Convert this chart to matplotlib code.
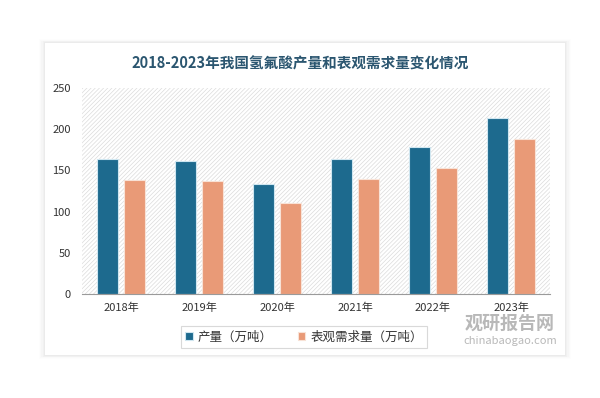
import numpy as np
import matplotlib.pyplot as plt
from matplotlib.patches import Rectangle

plt.rcParams['font.family'] = ['Noto Sans CJK SC', 'DejaVu Sans']
plt.rcParams['hatch.color'] = '#dcdcdc'
plt.rcParams['hatch.linewidth'] = 0.5

years = ['2018年', '2019年', '2020年', '2021年', '2022年', '2023年']
output = [164, 162, 134, 164, 179, 213]
demand = [138, 137, 110, 139, 153, 188]
labels = ['产量（万吨）', '表观需求量（万吨）']
c_out = '#1d6a8e'
c_dem = '#e99a77'

fig = plt.figure(figsize=(6, 3.98), dpi=100)

# card with soft shadow
for i, a in enumerate([0.008, 0.012, 0.016, 0.02, 0.025]):
    d = (5 - i) * 0.002
    fig.patches.append(Rectangle((45/600 - d, 1 - 355/398 - d), 520/600 + 2*d, 312/398 + 2*d,
                                 transform=fig.transFigure, facecolor='black', alpha=a,
                                 edgecolor='none', zorder=0))
fig.patches.append(Rectangle((45/600, 1 - 355/398), 520/600, 312/398,
                             transform=fig.transFigure, facecolor='white',
                             edgecolor='none', zorder=0.5))

ax = fig.add_axes([82/600, 1 - 294/398, 468/600, 206/398])
ax.set_zorder(2)
ax.set_facecolor('none')
ax.add_patch(Rectangle((0, 0), 1, 1, transform=ax.transAxes, facecolor='white',
                       edgecolor='#dcdcdc', hatch='////////', linewidth=0, zorder=0))

x = np.arange(len(years))
w = 0.27
ax.bar(x - 0.17, output, w, color=c_out, edgecolor='#cfe6f0', linewidth=0.8, zorder=3, label=labels[0])
ax.bar(x + 0.17, demand, w, color=c_dem, edgecolor='#f8e2d6', linewidth=0.8, zorder=3, label=labels[1])

ax.set_xlim(-0.5, len(years) - 0.5)
ax.set_ylim(0, 250)
ax.set_yticks(range(0, 251, 50))
ax.set_xticks(x)
ax.set_xticklabels(years)
ax.tick_params(axis='both', length=0, labelsize=8, colors='#333333')
ax.tick_params(axis='y', pad=8)
ax.tick_params(axis='x', pad=6)
for s in ['top', 'right', 'left']:
    ax.spines[s].set_visible(False)
ax.spines['bottom'].set_color('#9a9a9a')
ax.spines['bottom'].set_zorder(4)

fig.text(0.5, 1 - 64/398, '2018-2023年我国氢氟酸产量和表观需求量变化情况', ha='center', va='center',
         fontsize=10.5, fontweight='bold', color='#2b5670', zorder=5)

leg = fig.legend(loc='center', bbox_to_anchor=(304/600, 1 - 337/398), ncol=2, frameon=True,
                 fontsize=9, handlelength=0.6, handleheight=0.6, columnspacing=2.0,
                 handletextpad=0.4, borderpad=0.35, borderaxespad=0, fancybox=False)
leg.get_frame().set_edgecolor('#d0d0d0')
leg.get_frame().set_linewidth(0.8)
leg.set_zorder(5)
for t in leg.get_texts():
    t.set_color('#333333')

# watermark
fig.text(510/600, 1 - 323/398, '观研报告网', ha='center', va='center', fontsize=13,
         fontweight='bold', color='#9a9a9a', alpha=0.7, zorder=6)
fig.text(510/600, 1 - 341/398, 'chinabaogao.com', ha='center', va='center', fontsize=8,
         color='#9a9a9a', alpha=0.7, zorder=6)

fig.savefig('out.png', dpi=100, facecolor='white')
